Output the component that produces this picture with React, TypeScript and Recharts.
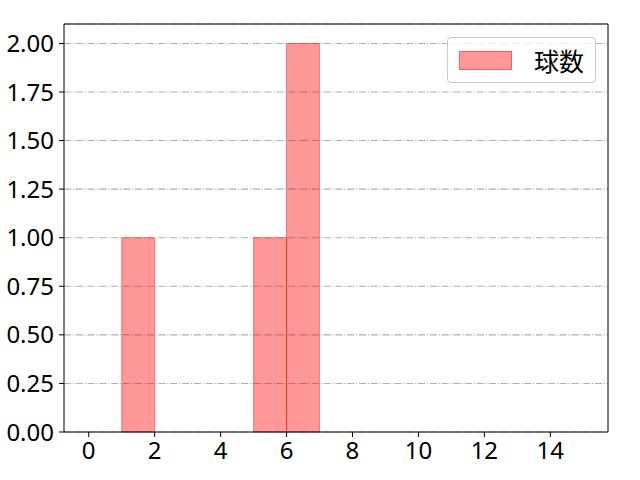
import { ComposedChart, XAxis, YAxis, CartesianGrid, Legend, ReferenceArea, ReferenceLine } from 'recharts'

// histogram bins (left edges) and counts per bin
const binStarts = [0, 1, 2, 3, 4, 5, 6, 7, 8, 9, 10, 11, 12, 13, 14]
const counts = [0, 1, 0, 0, 0, 1, 2, 0, 0, 0, 0, 0, 0, 0, 0]
const binWidth = 1
const xTicks = [0, 2, 4, 6, 8, 10, 12, 14]
const yTicks = [0, 0.25, 0.5, 0.75, 1.0, 1.25, 1.5, 1.75, 2.0]
const seriesName = '球数'

const X_DOMAIN: [number, number] = [-0.75, 15.75]
const Y_DOMAIN: [number, number] = [0, 2.1]
const FONT = '"Noto Sans", "Noto Sans CJK JP", sans-serif'
const CJK_FONT = '"Noto Sans CJK JP", "Noto Sans", sans-serif'

const bins = binStarts
  .map((s, i) => ({ x1: s, x2: s + binWidth, count: counts[i] }))
  .filter((b) => b.count > 0)

function LegendBox() {
  return (
    <div
      style={{
        boxSizing: 'border-box',
        width: 149,
        height: 46,
        border: '1px solid #cccccc',
        borderRadius: 4,
        background: 'rgba(255,255,255,0.8)',
        display: 'flex',
        alignItems: 'center',
        paddingLeft: 11,
        fontFamily: CJK_FONT,
      }}
    >
      <span
        style={{
          boxSizing: 'border-box',
          width: 53,
          height: 19,
          background: 'rgba(255,0,0,0.4)',
          border: '1px solid rgba(255,0,0,0.4)',
        }}
      />
      <span style={{ marginLeft: 22, fontSize: 25, fontWeight: 400, color: '#000', lineHeight: 1 }}>
        {seriesName}
      </span>
    </div>
  )
}

export default function App() {
  return (
    <div style={{ position: 'absolute', left: 0, top: 0, background: '#fff' }}>
      <ComposedChart
        width={640}
        height={480}
        data={bins}
        margin={{ top: 24, right: 32, bottom: 0, left: 0 }}
        style={{ fontFamily: FONT, fontWeight: 400 }}
      >
        <CartesianGrid
          vertical={false}
          stroke="#b0b0b0"
          strokeWidth={1.1}
          strokeDasharray="7.1 1.8 1.1 1.8"
        />
        <XAxis
          dataKey="x1"
          type="number"
          domain={X_DOMAIN}
          ticks={xTicks}
          allowDataOverflow
          height={48}
          tickSize={5}
          tickMargin={5}
          stroke="#000"
          tick={{ fill: '#000', fontSize: 24 }}
          interval={0}
        />
        <YAxis
          dataKey="count"
          type="number"
          domain={Y_DOMAIN}
          ticks={yTicks}
          allowDataOverflow
          width={64}
          tickSize={5}
          tickMargin={5}
          stroke="#000"
          tick={{ fill: '#000', fontSize: 24 }}
          tickFormatter={(v: number) => v.toFixed(2)}
          interval={0}
        />
        {bins.map((b) => (
          <ReferenceArea
            key={b.x1}
            x1={b.x1}
            x2={b.x2}
            y1={0}
            y2={b.count}
            ifOverflow="visible"
            fill="red"
            fillOpacity={0.4}
            stroke="red"
            strokeOpacity={0.4}
            strokeWidth={1.1}
          />
        ))}
        <ReferenceLine y={Y_DOMAIN[1]} stroke="#000" strokeWidth={1} ifOverflow="visible" />
        <ReferenceLine x={X_DOMAIN[1]} stroke="#000" strokeWidth={1} ifOverflow="visible" />
        <Legend
          layout="vertical"
          align="center"
          verticalAlign="middle"
          wrapperStyle={{ top: 37, left: 447, width: 'auto' }}
          content={() => <LegendBox />}
        />
      </ComposedChart>
    </div>
  )
}
